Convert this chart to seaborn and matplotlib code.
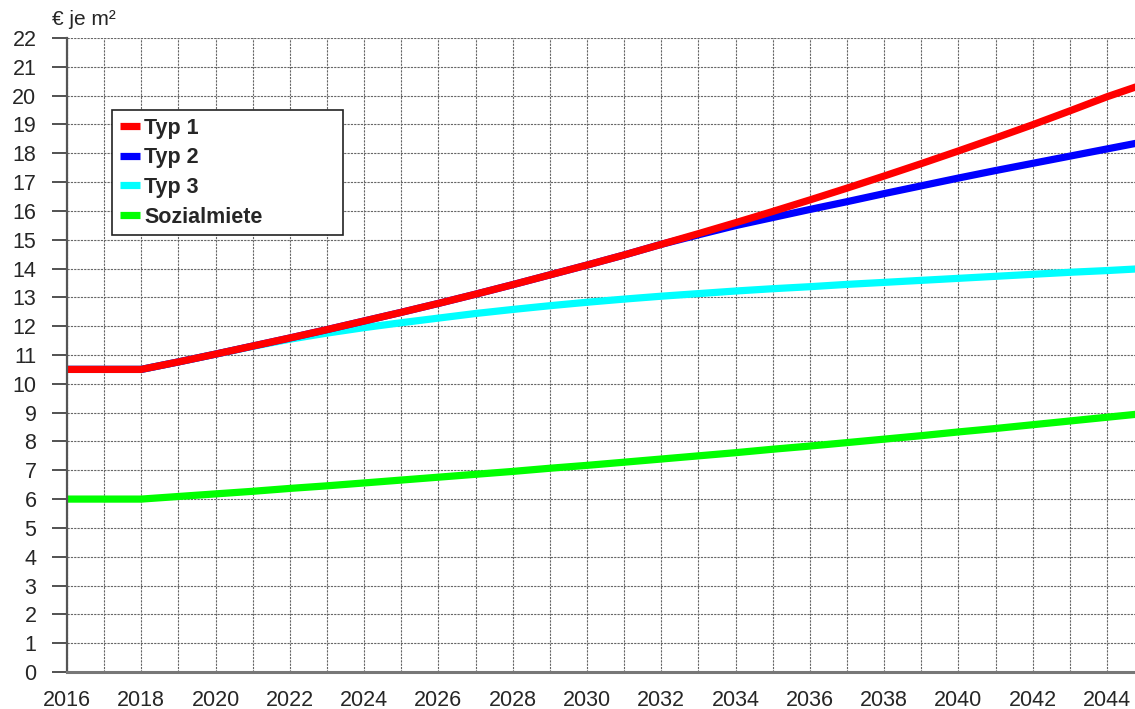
import matplotlib
matplotlib.use("Agg")
import matplotlib.pyplot as plt
from matplotlib.ticker import FixedLocator
import seaborn as sns

# Mietpreise in Euro je m²
years = list(range(2016, 2046))
typ1 = [10.5, 10.5, 10.5, 10.76, 11.03, 11.31, 11.59, 11.88, 12.18, 12.48,
        12.79, 13.11, 13.44, 13.78, 14.12, 14.47, 14.84, 15.21, 15.59, 15.98,
        16.38, 16.79, 17.21, 17.64, 18.08, 18.53, 18.99, 19.47, 19.96, 20.40]
typ2 = [10.5, 10.5, 10.5, 10.76, 11.03, 11.31, 11.59, 11.88, 12.18, 12.48,
        12.79, 13.11, 13.44, 13.78, 14.12, 14.47, 14.84, 15.17, 15.49, 15.77,
        16.05, 16.32, 16.60, 16.87, 17.14, 17.40, 17.65, 17.90, 18.15, 18.40]
typ3 = [10.5, 10.5, 10.5, 10.76, 11.03, 11.30, 11.55, 11.76, 11.95, 12.12,
        12.28, 12.44, 12.58, 12.71, 12.83, 12.94, 13.04, 13.13, 13.22, 13.30,
        13.37, 13.45, 13.52, 13.59, 13.66, 13.73, 13.80, 13.87, 13.93, 14.00]
sozial = [6.0, 6.0, 6.0, 6.09, 6.18, 6.27, 6.37, 6.46, 6.56, 6.66,
          6.76, 6.86, 6.96, 7.07, 7.17, 7.28, 7.39, 7.50, 7.61, 7.73,
          7.84, 7.96, 8.08, 8.20, 8.33, 8.45, 8.58, 8.71, 8.84, 8.97]

series_names = ["Typ 1", "Typ 2", "Typ 3", "Sozialmiete"]
series_colors = ["#FF0000", "#0000FF", "#00FFFF", "#00FF00"]
x_tick_labels = [str(y) if y % 2 == 0 else "" for y in years]
y_ticks = list(range(0, 23))

sns.set_style("white")
plt.rcParams["font.family"] = ["Liberation Sans", "DejaVu Sans"]

fig = plt.figure(figsize=(11.35, 7.09), dpi=100)
ax = fig.add_axes([0.059, 0.0522, 0.949, 0.8942])

# draw bottom series first so that Typ 1 sits on top
data = dict(zip(series_names, [typ1, typ2, typ3, sozial]))
colors = dict(zip(series_names, series_colors))
for name in reversed(series_names):
    sns.lineplot(x=years, y=data[name], color=colors[name], lw=5.2,
                 label=name, ax=ax, solid_capstyle="butt", legend=False)

ax.set_xlim(2016, 2045)
ax.set_ylim(0, 22)
ax.xaxis.set_major_locator(FixedLocator(years))
ax.set_xticklabels(x_tick_labels)
ax.set_yticks(y_ticks)
ax.tick_params(axis="x", length=0, pad=13, labelsize=15.5)
ax.tick_params(axis="y", direction="out", length=11, width=1.2,
               color="#333333", pad=11, labelsize=15.5, left=True)

ax.grid(True, color="#666666", lw=0.8, ls=(0, (2, 1)))
ax.set_axisbelow(True)
for side in ["top", "right"]:
    ax.spines[side].set_visible(False)
ax.spines["left"].set_color("#555555")
ax.spines["left"].set_linewidth(1.6)
ax.spines["bottom"].set_color("#777777")
ax.spines["bottom"].set_linewidth(2.2)
ax.set_xlabel("")
ax.set_ylabel("")

fig.text(0.046, 0.972, "€ je m²", fontsize=15, ha="left", va="center")

handles, labels = ax.get_legend_handles_labels()
order = [labels.index(n) for n in series_names]
leg = ax.legend([handles[i] for i in order], [labels[i] for i in order],
                loc="upper left", bbox_to_anchor=(0.0418, 0.5, 0.2145, 0.386),
                mode="expand", frameon=True, fancybox=False, framealpha=1,
                edgecolor="#222222", prop={"weight": "bold", "size": 15.5},
                handlelength=0.95, handletextpad=0.2, labelspacing=0.4,
                borderpad=0.35, borderaxespad=0)
leg.get_frame().set_linewidth(1.2)

fig.savefig("out.png", dpi=100)
